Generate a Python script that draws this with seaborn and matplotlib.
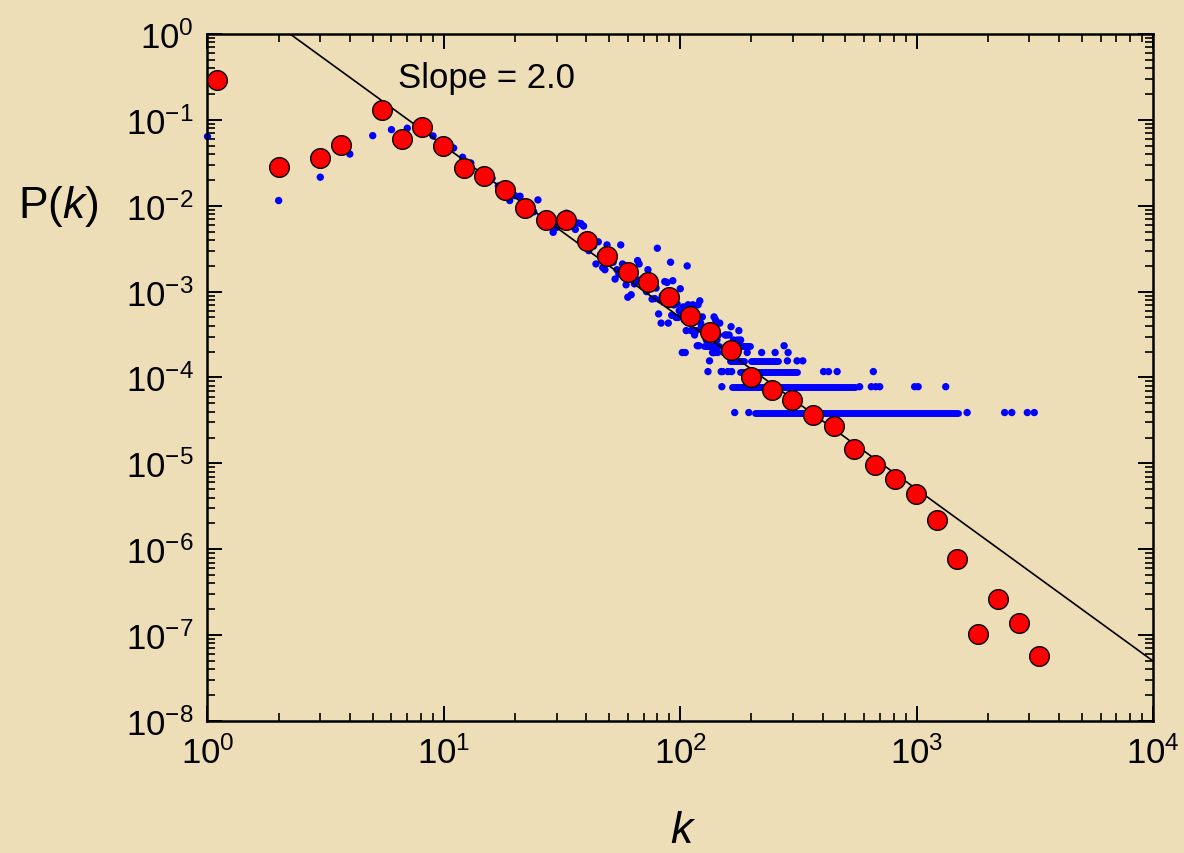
import numpy as np
import pandas as pd
import matplotlib
matplotlib.use("Agg")
import matplotlib.pyplot as plt
import seaborn as sns
from matplotlib.ticker import LogLocator, FuncFormatter, NullFormatter

# ---------------------------------------------------------------- data
# log-binned degree distribution
k_bin = [1.10, 2.0, 2.99, 3.67, 5.47, 6.65, 8.09, 9.91, 12.2, 14.8, 18.1, 22.0,
         27.1, 32.9, 40.3, 49.0, 60.1, 73.0, 89.6, 110, 134, 164, 200, 244, 297,
         364, 446, 543, 667, 809, 993, 1218, 1479, 1815, 2209, 2711, 3296]
p_bin = [0.29, 0.0283, 0.036, 0.051, 0.130, 0.060, 0.083, 0.050, 0.0275, 0.0222,
         0.0153, 0.0094, 0.0068, 0.0068, 0.0039, 0.0026, 0.0017, 0.0013, 8.7e-4,
         5.2e-4, 3.4e-4, 2.1e-4, 1.0e-4, 7.2e-5, 5.5e-5, 3.7e-5, 2.7e-5, 1.47e-5,
         9.6e-6, 6.6e-6, 4.4e-6, 2.2e-6, 7.7e-7, 1.03e-7, 2.6e-7, 1.39e-7, 5.7e-8]

# raw degree distribution, low degrees
k_raw = list(range(1, 101))
p_raw = [0.064, 0.0115, 0.0215, 0.040, 0.0655, 0.077, 0.080, 0.078, 0.065, 0.050,
         0.047, 0.0367, 0.0315, 0.024, 0.022, 0.0209, 0.017, 0.015, 0.0115, 0.0131,
         0.0129, 0.0095, 0.0090, 0.0085, 0.0117, 0.0072, 0.0068, 0.0066, 0.0049, 0.0056,
         0.0062, 0.0066, 0.0082, 0.0060, 0.0058, 0.0053, 0.0063, 0.0062, 0.0058, 0.0040,
         0.0030, 0.0037, 0.0034, 0.0021, 0.0038, 0.0027, 0.0019, 0.0018, 0.0035, 0.0025,
         0.0028, 0.0022, 0.0014, 0.0018, 0.0016, 0.0035, 0.0021, 0.0016, 0.0012, 0.00086,
         0.0015, 0.00092, 0.0017, 0.00123, 0.0014, 0.0023, 0.0021, 0.0013, 0.0014, 0.0012,
         0.0015, 0.0010, 0.0018, 0.0011, 0.0013, 0.00082, 0.0012, 0.00083, 0.0011, 0.0032,
         0.00055, 0.00080, 0.00043, 0.00090, 0.00075, 0.00131, 0.00085, 0.00128, 0.00043, 0.00095,
         0.0022, 0.00053, 0.00134, 0.00070, 0.00080, 0.00050, 0.00072, 0.00050, 0.00060, 0.00108]

# raw degree distribution, high degrees: number of nodes with degree k
n_nodes = 25600
k_tail = [102, 103, 104, 105, 106, 107, 108, 109, 110, 111, 112, 113, 114, 115, 116,
          117, 118, 119, 120, 121, 122, 123, 124, 127, 129, 130, 131, 132, 133, 134,
          136, 137, 138, 139, 140, 141, 143, 144, 145, 147, 149, 150, 151, 153, 155,
          157, 159, 161, 164, 165, 168, 170, 175, 177, 180, 192, 195, 221, 252, 275,
          284, 286, 312, 330, 404, 424, 461, 574, 643, 656, 672, 698, 981, 1015, 1328,
          1636, 2357, 2527, 2940, 3146]
n_tail = [5, 17, 12, 5, 9, 51, 18, 14, 12, 9, 13, 18, 17, 8, 12,
          9, 6, 18, 6, 20, 11, 10, 13, 9, 7, 8, 3, 8, 4, 9,
          10, 5, 5, 13, 5, 12, 7, 5, 8, 11, 3, 2, 3, 5, 8,
          8, 3, 8, 10, 3, 7, 1, 7, 9, 7, 5, 1, 5, 5, 6,
          4, 5, 4, 4, 3, 3, 3, 2, 2, 3, 2, 2, 2, 2, 2,
          1, 1, 1, 1, 1]
# consecutive degrees sharing the same node count
run_count = [1, 2, 3, 4, 4, 6, 6]
run_start = [208, 166, 179, 162, 200, 126, 176]
run_stop = [1495, 547, 311, 186, 259, 146, 197]

# power-law guide, P(k) = A k^-gamma
gamma = 2.0
amp = 5.0
fit_k = np.array([1.0, 1.0e4])
fit_p = amp * fit_k ** (-gamma)

# ---------------------------------------------------------------- style
sns.set_theme(style="ticks")
plt.rcParams["font.family"] = ["Liberation Sans", "DejaVu Sans"]
plt.rcParams["mathtext.fontset"] = "custom"
plt.rcParams["mathtext.rm"] = "Liberation Sans"
plt.rcParams["mathtext.it"] = "Liberation Sans:italic"
plt.rcParams["mathtext.default"] = "regular"
plt.rcParams["text.color"] = "black"
plt.rcParams["axes.labelcolor"] = "black"
plt.rcParams["xtick.color"] = "black"
plt.rcParams["ytick.color"] = "black"

BG = "#EEDEB8"
BLUE = "#0000FF"
RED = "#FF0000"

fig = plt.figure(figsize=(11.84, 8.54), dpi=100, facecolor=BG)
ax = fig.add_axes([0.17525, 0.15457, 0.79856, 0.80445])
ax.set_facecolor("none")
ax.set_xscale("log")
ax.set_yscale("log")

raw = pd.DataFrame({"k": k_raw, "P": p_raw})
tail = pd.DataFrame({"k": k_tail, "P": np.array(n_tail) / n_nodes})
binned = pd.DataFrame({"k": k_bin, "P": p_bin})

sns.scatterplot(data=raw, x="k", y="P", ax=ax, s=28, color=BLUE,
                edgecolor="none", linewidth=0, zorder=2, clip_on=False)
sns.scatterplot(data=tail, x="k", y="P", ax=ax, s=28, color=BLUE,
                edgecolor="none", linewidth=0, zorder=2)
ax.hlines(np.array(run_count) / n_nodes, run_start, run_stop, colors=BLUE,
          linewidth=5.0, capstyle="round", zorder=2)

sns.lineplot(x=fit_k, y=fit_p, ax=ax, color="black", linewidth=1.2, zorder=3,
             sort=False, estimator=None)

sns.scatterplot(data=binned, x="k", y="P", ax=ax, s=200, color=RED,
                edgecolor="black", linewidth=1.0, zorder=4, clip_on=False)

ax.text(6.4, 0.31, "Slope = 2.0", fontsize=25, color="black",
        ha="left", va="center", zorder=5)

# ---------------------------------------------------------------- axes
ax.set_xlim(1, 1e4)
ax.set_ylim(1e-8, 1)

def pow10(v, pos):
    return r"$10^{%d}$" % int(round(np.log10(v)))

for axis in (ax.xaxis, ax.yaxis):
    axis.set_major_locator(LogLocator(base=10, numticks=20))
    axis.set_minor_locator(LogLocator(base=10, subs=np.arange(2, 10), numticks=20))
    axis.set_major_formatter(FuncFormatter(pow10))
    axis.set_minor_formatter(NullFormatter())

ax.tick_params(which="both", direction="in", top=True, right=True,
               color="black", labelsize=25, labelcolor="black")
ax.tick_params(which="major", length=11, width=1.4)
ax.tick_params(which="minor", length=6, width=1.2)
ax.tick_params(axis="x", which="major", pad=10)
ax.tick_params(axis="y", which="major", pad=10)

for side in ax.spines.values():
    side.set_linewidth(1.8)
    side.set_color("black")

ax.set_ylabel(r"P($\mathit{k}$)", fontsize=32, rotation=0, ha="center", va="center")
ax.yaxis.set_label_coords(-0.158, 0.75)
ax.set_xlabel(r"$\mathit{k}$", fontsize=32, ha="center", va="center")
ax.xaxis.set_label_coords(0.503, -0.16)

fig.savefig("out.png", dpi=100, facecolor=BG)
